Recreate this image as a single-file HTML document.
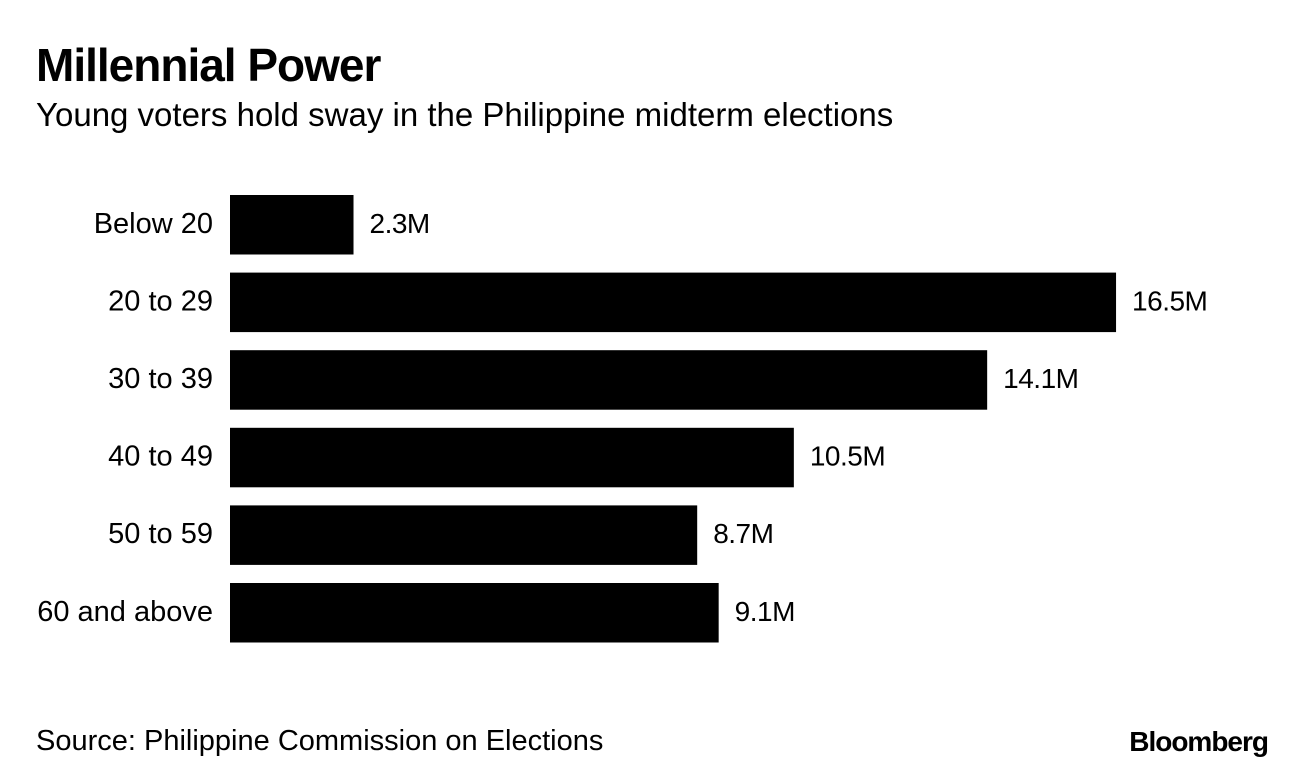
<!DOCTYPE html>
<html><head><meta charset="utf-8"><style>
body{margin:0;width:1296px;height:772px;background:#fff;overflow:hidden;font-family:"Liberation Sans",sans-serif;}
</style></head><body>
<svg width="1296" height="772" xmlns="http://www.w3.org/2000/svg" font-family="Liberation Sans, sans-serif">
<text x="36" y="81" font-size="46" font-weight="bold" letter-spacing="-1">Millennial Power</text>
<text x="36" y="126" font-size="33">Young voters hold sway in the Philippine midterm elections</text>
<g id="bars"></g>
<text x="36" y="750" font-size="29">Source: Philippine Commission on Elections</text>
<text x="1268" y="751" font-size="28" font-weight="bold" text-anchor="end" letter-spacing="-1">Bloomberg</text>
</svg>
<script>
const categories=["Below 20","20 to 29","30 to 39","40 to 49","50 to 59","60 and above"];
const values=[2.3,16.5,14.1,10.5,8.7,9.1];
const labels=["2.3M","16.5M","14.1M","10.5M","8.7M","9.1M"];
const x0=230,scale=53.7,top0=195,step=77.6,bh=59.5;
const xf=v=>x0+v*scale, yf=i=>top0+i*step;
const g=document.getElementById('bars');const ns="http://www.w3.org/2000/svg";
categories.forEach((c,i)=>{
 const r=document.createElementNS(ns,'rect');
 r.setAttribute('x',x0);r.setAttribute('y',yf(i));r.setAttribute('width',xf(values[i])-x0);r.setAttribute('height',bh);r.setAttribute('fill','#000');
 
 
 g.appendChild(r);
 const t=document.createElementNS(ns,'text');
 t.setAttribute('x',213);t.setAttribute('y',yf(i)+bh/2+8);t.setAttribute('font-size','29');t.setAttribute('text-anchor','end');t.textContent=c;
 
 
 g.appendChild(t);
 const v=document.createElementNS(ns,'text');
 v.setAttribute('x',xf(values[i])+16);v.setAttribute('y',yf(i)+bh/2+8);v.setAttribute('font-size','28');v.setAttribute('letter-spacing','-0.5');v.textContent=labels[i];
 
 
 g.appendChild(v);
});
</script>
</body></html>
